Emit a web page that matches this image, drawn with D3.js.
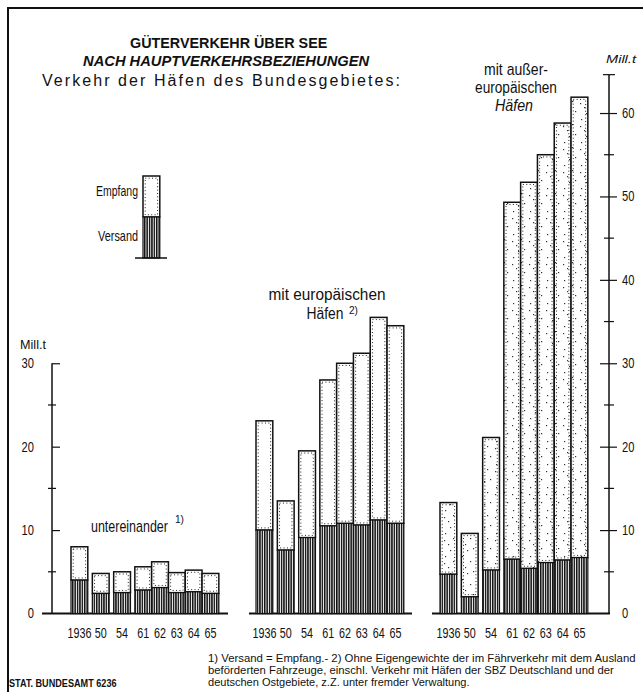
<!DOCTYPE html>
<html>
<head>
<meta charset="utf-8">
<script src="https://cdn.jsdelivr.net/npm/d3@7"></script>
<style>
	body { margin: 0; background: #fff; }
	svg text { font-family: "Liberation Sans", Arial, sans-serif; fill: #111; }
</style>
</head>
<body>
<div id="chart"></div>
<script>
'use strict';

// Data (Mill. t)
var years = ["1936", "50", "54", "61", "62", "63", "64", "65"];

// traffic between federal ports (Versand = Empfang)
var untereinanderTotal = [8.0, 4.8, 5.0, 5.6, 6.2, 4.9, 5.2, 4.8];
var untereinanderVersand = [4.0, 2.4, 2.5, 2.8, 3.1, 2.5, 2.6, 2.4];

// with European ports
var europaTotal = [23.1, 13.5, 19.5, 28.0, 30.0, 31.2, 35.5, 34.5];
var europaVersand = [10.0, 7.6, 9.1, 10.5, 10.8, 10.6, 11.2, 10.8];

// with non-European ports
var ueberseeTotal = [13.3, 9.6, 21.1, 49.3, 51.7, 55.0, 58.8, 61.9];
var ueberseeVersand = [4.7, 2.0, 5.2, 6.5, 5.4, 6.1, 6.4, 6.7];

var leftTicks = [0, 10, 20, 30];
var leftMinor = [5, 15, 25];
var rightTicks = [0, 10, 20, 30, 40, 50, 60];
var rightMinor = [5, 15, 25, 35, 45, 55];

var width = 643;
var height = 692;

var svg = d3.select("#chart")
	.append("svg")
	.attr("width", width)
	.attr("height", height);

// one vertical scale for all three groups
var y = d3.scaleLinear()
	.domain([0, 63.6])
	.range([613.5, 83]);

var barW = 16.8;
// bars 1936, 50, 54 stand apart, 61..65 touch each other
function slot(i) {
	return i < 3 ? i * 1.27 : 3.8 + (i - 3);
}

// condensed looking text: squeeze horizontally to a given width
function squeeze(sel, x, yy, len) {
	sel.each(function () {
		var w = this.getComputedTextLength();
		var k = len ? len / w : 1;
		d3.select(this).attr("transform", "translate(" + x + "," + yy + ") scale(" + k + ",1)");
	});
	return sel;
}

function label(x, yy, txt, size, len, anchor) {
	var t = svg.append("text")
		.attr("text-anchor", anchor || "start")
		.style("font-size", size + "px")
		.text(txt);
	return squeeze(t, x, yy, len);
}

// patterns
var defs = svg.append("defs");

var hatch = defs.append("pattern")
	.attr("id", "hatch")
	.attr("patternUnits", "userSpaceOnUse")
	.attr("width", 2.4)
	.attr("height", 10);
hatch.append("rect").attr("width", 2.4).attr("height", 10).attr("fill", "#fff");
hatch.append("rect").attr("width", 1.5).attr("height", 10).attr("fill", "#111");

var stipple = defs.append("pattern")
	.attr("id", "stipple")
	.attr("patternUnits", "userSpaceOnUse")
	.attr("width", 17)
	.attr("height", 23);
stipple.append("rect").attr("width", 17).attr("height", 23).attr("fill", "#fff");
[[3, 4], [11, 9], [6, 15], [14, 19], [8, 21], [2, 11]].forEach(function (p) {
	stipple.append("rect")
		.attr("x", p[0]).attr("y", p[1])
		.attr("width", 1.2).attr("height", 1.2)
		.attr("fill", "#333");
});

// frame
svg.append("path")
	.attr("d", "M8,692 V8 H643")
	.attr("fill", "none")
	.attr("stroke", "#111")
	.attr("stroke-width", 2);

function drawGroup(x0, total, versand, base, fillEmpfang) {
	var x = d3.scaleLinear()
		.domain([0, 1])
		.range([x0, x0 + barW]);

	var g = svg.append("g");

	// baseline
	g.append("line")
		.attr("x1", base[0]).attr("x2", base[1])
		.attr("y1", y(0)).attr("y2", y(0))
		.attr("stroke", "#111")
		.attr("stroke-width", 2);

	var bars = g.selectAll("g.bar")
		.data(years)
		.enter()
		.append("g")
		.attr("class", "bar");

	// Empfang (upper, light)
	bars.append("rect")
		.attr("x", function (d, i) { return x(slot(i)); })
		.attr("y", function (d, i) { return y(total[i]); })
		.attr("width", barW)
		.attr("height", function (d, i) { return y(versand[i]) - y(total[i]); })
		.attr("fill", fillEmpfang)
		.attr("stroke", "#111")
		.attr("stroke-width", 1.5);

	bars.append("rect")
		.attr("x", function (d, i) { return x(slot(i)) + 2.2; })
		.attr("y", function (d, i) { return y(total[i]) + 2.2; })
		.attr("width", barW - 4.4)
		.attr("height", function (d, i) { return Math.max(0, y(versand[i]) - y(total[i]) - 4.4); })
		.attr("fill", "none")
		.attr("stroke", "#222")
		.attr("stroke-width", 1)
		.attr("stroke-dasharray", "1 2.4");

	// Versand (lower, hatched)
	bars.append("rect")
		.attr("x", function (d, i) { return x(slot(i)); })
		.attr("y", function (d, i) { return y(versand[i]); })
		.attr("width", barW)
		.attr("height", function (d, i) { return y(0) - y(versand[i]); })
		.attr("fill", "url(#hatch)")
		.attr("stroke", "#111")
		.attr("stroke-width", 1.2);

	// year labels
	bars.append("text")
		.attr("text-anchor", "middle")
		.style("font-size", "14px")
		.text(function (d) { return d; })
		.each(function (d, i) {
			squeeze(d3.select(this), x(slot(i)) + barW / 2, 638, d.length * 6);
		});
}

drawGroup(71, untereinanderTotal, untereinanderVersand, [42, 228], "#fff");
drawGroup(256, europaTotal, europaVersand, [249, 412], "#fff");
drawGroup(440, ueberseeTotal, ueberseeVersand, [432, 610], "url(#stipple)");

// left axis
var leftAxis = svg.append("g")
	.attr("transform", "translate(52,0)")
	.call(d3.axisLeft(y).tickValues(leftTicks).tickSize(10).tickPadding(9).tickFormat(d3.format("d")));
leftAxis.select(".domain").remove();
leftAxis.selectAll(".tick line").attr("x2", 8).attr("stroke", "#111").attr("stroke-width", 1.2);
leftAxis.selectAll(".tick text")
	.style("font-size", "14px")
	.attr("fill", "#111")
	.attr("x", null).attr("dy", "0.32em")
	.each(function (d) { squeeze(d3.select(this), -18, 0, String(d).length * 6.2); });
leftAxis.selectAll(".tick").filter(function (d) { return d === 0; }).select("line").remove();
leftAxis.append("line")
	.attr("y1", y(0)).attr("y2", y(30))
	.attr("stroke", "#111").attr("stroke-width", 1.5);
leftAxis.selectAll(".minor")
	.data(leftMinor)
	.enter()
	.append("line")
	.attr("class", "minor")
	.attr("x1", -4).attr("x2", 4)
	.attr("y1", function (d) { return y(d); })
	.attr("y2", function (d) { return y(d); })
	.attr("stroke", "#111").attr("stroke-width", 1.2);

label(20, 349, "Mill.t", 12, 26);

// right axis
var rightAxis = svg.append("g")
	.attr("transform", "translate(609,0)")
	.call(d3.axisRight(y).tickValues(rightTicks).tickSize(8).tickPadding(6).tickFormat(d3.format("d")));
rightAxis.select(".domain").remove();
rightAxis.selectAll(".tick line").attr("x1", -9).attr("stroke", "#111").attr("stroke-width", 1.2);
rightAxis.selectAll(".tick").filter(function (d) { return d === 0; }).select("line").remove();
rightAxis.selectAll(".tick text")
	.style("font-size", "14px")
	.attr("fill", "#111")
	.attr("x", null).attr("dy", "0.32em")
	.each(function (d) { squeeze(d3.select(this), 13, 0, String(d).length * 6.2); });
rightAxis.append("line")
	.attr("y1", y(0)).attr("y2", y(64.6))
	.attr("stroke", "#111").attr("stroke-width", 1.5);
rightAxis.append("line")
	.attr("x1", -6).attr("x2", 6)
	.attr("y1", y(64.6)).attr("y2", y(64.6))
	.attr("stroke", "#111").attr("stroke-width", 1.2);
rightAxis.selectAll(".minor")
	.data(rightMinor)
	.enter()
	.append("line")
	.attr("class", "minor")
	.attr("x1", -5).attr("x2", 5)
	.attr("y1", function (d) { return y(d); })
	.attr("y2", function (d) { return y(d); })
	.attr("stroke", "#111").attr("stroke-width", 1.2);

label(606, 63, "Mill.t", 11, 30).style("font-style", "italic");

// titles
label(130, 48, "GÜTERVERKEHR ÜBER SEE", 14, 196).style("font-weight", "bold");
label(83, 66, "NACH HAUPTVERKEHRSBEZIEHUNGEN", 14, 283)
	.style("font-weight", "bold").style("font-style", "italic");
svg.append("text")
	.attr("x", 42).attr("y", 86)
	.attr("textLength", 358).attr("lengthAdjust", "spacing")
	.style("font-size", "16px")
	.text("Verkehr der Häfen des Bundesgebietes:");

// group labels
label(91, 532, "untereinander", 16, 77);
label(175, 523, "1)", 10, 9);

label(327, 300, "mit europäischen", 16, 117, "middle");
label(325, 319, "Häfen", 16, 37, "middle");
label(349, 314, "2)", 10, 9);

label(516, 75, "mit außer-", 16, 64, "middle");
label(516, 93, "europäischen", 16, 82, "middle");
label(514, 111, "Häfen", 16, 38, "middle").style("font-style", "italic");

// legend
var legend = svg.append("g");
legend.append("rect")
	.attr("x", 143).attr("y", 176)
	.attr("width", barW).attr("height", 41)
	.attr("fill", "#fff").attr("stroke", "#111").attr("stroke-width", 1.5);
legend.append("rect")
	.attr("x", 145.2).attr("y", 178.2)
	.attr("width", barW - 4.4).attr("height", 36.6)
	.attr("fill", "none").attr("stroke", "#222").attr("stroke-width", 1)
	.attr("stroke-dasharray", "1 2.4");
legend.append("rect")
	.attr("x", 143).attr("y", 217)
	.attr("width", barW).attr("height", 41)
	.attr("fill", "url(#hatch)").attr("stroke", "#111").attr("stroke-width", 1.2);
legend.append("line")
	.attr("x1", 135).attr("x2", 167)
	.attr("y1", 258).attr("y2", 258)
	.attr("stroke", "#111").attr("stroke-width", 1.5);
label(138, 196, "Empfang", 14, 42, "end");
label(138, 241, "Versand", 14, 40, "end");

// footnotes
var notes = [
	["1) Versand = Empfang.- 2) Ohne Eigengewichte der im Fährverkehr mit dem Ausland", 662, 428],
	["beförderten Fahrzeuge, einschl. Verkehr mit Häfen der SBZ Deutschland und der", 674, 406],
	["deutschen Ostgebiete, z.Z. unter fremder Verwaltung.", 686, 262]
];
notes.forEach(function (n) {
	label(208, n[1], n[0], 11, n[2]);
});

label(9, 687, "STAT. BUNDESAMT 6236", 10, 106).style("font-weight", "bold");
</script>
</body>
</html>
